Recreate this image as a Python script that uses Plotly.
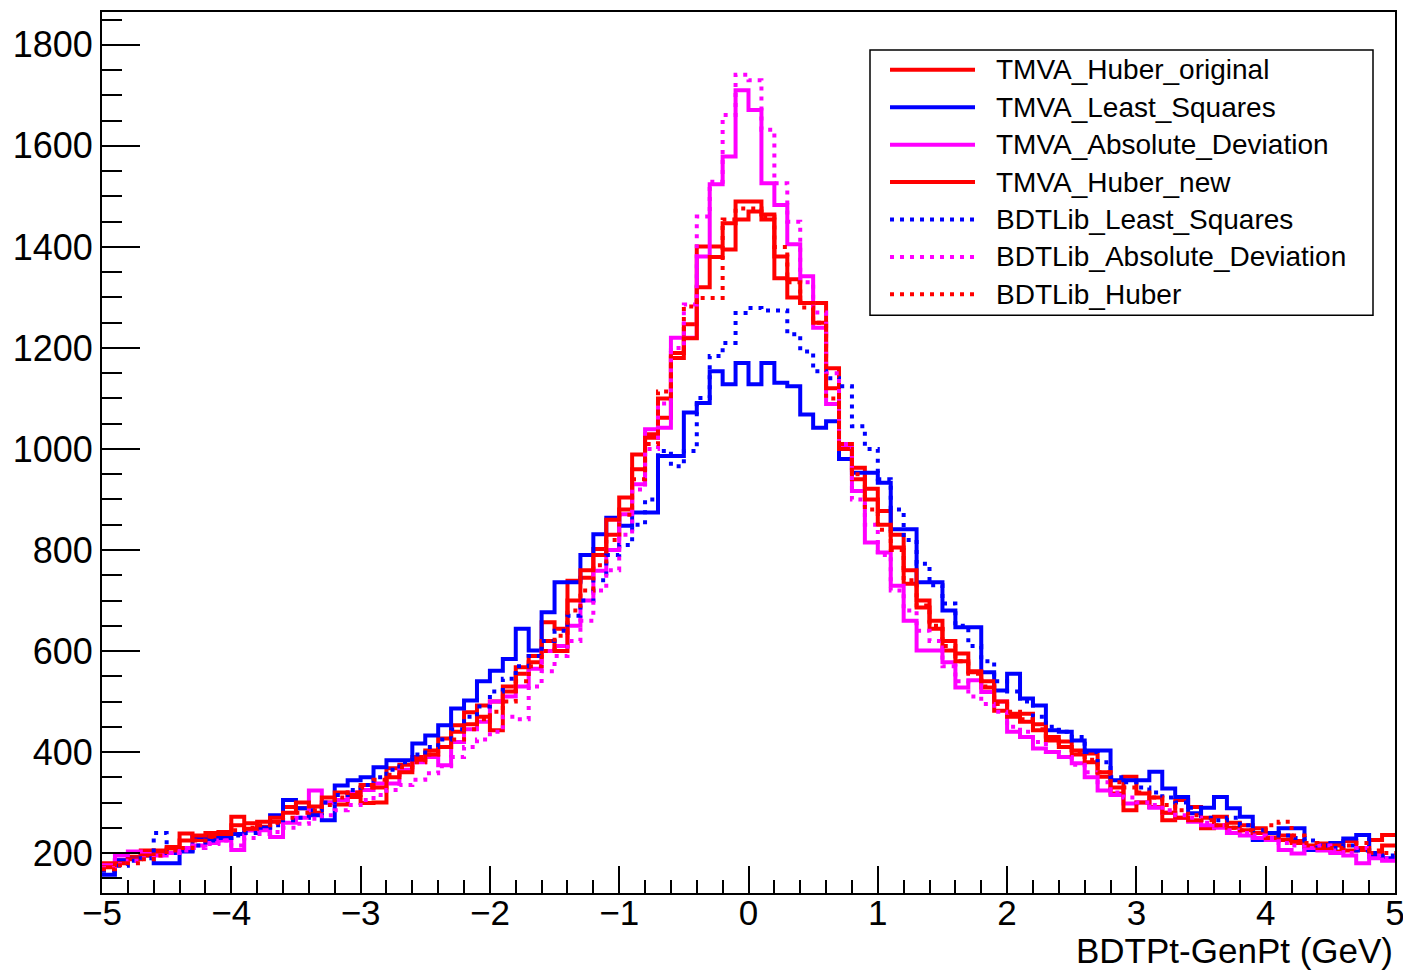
import numpy as np
import plotly.graph_objects as go

# Histogram binning: 100 bins from -5 to 5 GeV
x_min, x_max, n_bins = -5.0, 5.0, 100

series_names = ["TMVA_Huber_original", "TMVA_Least_Squares", "TMVA_Absolute_Deviation",
                "TMVA_Huber_new", "BDTLib_Least_Squares", "BDTLib_Absolute_Deviation",
                "BDTLib_Huber"]

tmva_huber_original = [
    180, 186, 193, 205, 200, 209, 239, 226, 232, 242,
    272, 259, 252, 262, 291, 289, 280, 300, 296, 311,
    299, 300, 368, 375, 390, 403, 427, 453, 479, 492,
    500, 530, 555, 578, 657, 644, 739, 745, 802, 830,
    904, 989, 1029, 1062, 1190, 1247, 1401, 1401, 1447, 1490,
    1490, 1464, 1381, 1336, 1289, 1289, 1160, 1010, 963, 921,
    877, 805, 733, 686, 644, 601, 595, 558, 528, 482,
    476, 476, 443, 423, 421, 403, 397, 351, 318, 351,
    318, 291, 265, 305, 291, 249, 272, 260, 255, 249,
    239, 226, 224, 212, 219, 203, 224, 206, 226, 236]

tmva_least_squares = [
    157, 186, 189, 195, 180, 180, 203, 232, 225, 230,
    238, 245, 250, 275, 305, 289, 275, 265, 334, 344,
    350, 370, 384, 384, 417, 433, 453, 486, 502, 540,
    561, 584, 644, 601, 677, 736, 736, 790, 831, 864,
    848, 874, 874, 986, 986, 1072, 1091, 1154, 1128, 1170,
    1128, 1170, 1131, 1124, 1068, 1042, 1055, 980, 953, 953,
    933, 841, 841, 736, 736, 680, 647, 647, 558, 522,
    555, 506, 492, 443, 440, 423, 403, 403, 344, 344,
    344, 361, 328, 311, 279, 290, 311, 289, 272, 226,
    240, 249, 249, 206, 215, 220, 229, 236, 193, 190]

tmva_absolute_deviation = [
    176, 195, 203, 198, 195, 200, 210, 215, 220, 225,
    206, 245, 245, 232, 260, 270, 324, 300, 305, 320,
    325, 338, 338, 365, 380, 390, 374, 420, 445, 460,
    500, 510, 530, 565, 600, 610, 650, 700, 759, 800,
    871, 930, 1039, 1042, 1220, 1220, 1381, 1524, 1579, 1710,
    1671, 1526, 1483, 1405, 1342, 1240, 1089, 1002, 917, 815,
    795, 729, 660, 601, 601, 578, 528, 542, 519, 500,
    440, 430, 407, 400, 390, 378, 350, 324, 315, 298,
    300, 290, 280, 270, 262, 255, 250, 240, 235, 230,
    226, 206, 199, 210, 205, 200, 195, 180, 190, 185]

tmva_huber_new = [
    172, 180, 188, 195, 205, 212, 225, 235, 240, 238,
    255, 248, 262, 270, 280, 300, 292, 310, 320, 315,
    335, 330, 350, 360, 385, 395, 410, 440, 455, 470,
    443, 520, 568, 590, 620, 600, 700, 760, 790, 860,
    880, 960, 1022, 1100, 1180, 1219, 1320, 1380, 1395, 1454,
    1470, 1454, 1338, 1300, 1289, 1250, 1120, 1000, 940, 900,
    850, 830, 760, 700, 660, 620, 580, 560, 540, 500,
    470, 460, 455, 430, 410, 395, 380, 360, 330, 285,
    300, 310, 280, 270, 265, 270, 255, 250, 245, 240,
    230, 235, 220, 215, 210, 215, 205, 210, 200, 215]

bdtlib_least_squares = [
    165, 175, 185, 190, 240, 200, 205, 215, 225, 230,
    235, 240, 250, 255, 265, 270, 285, 300, 315, 325,
    335, 350, 365, 380, 395, 410, 425, 445, 470, 490,
    520, 545, 570, 590, 620, 640, 670, 700, 740, 790,
    810, 850, 900, 996, 966, 996, 1101, 1184, 1210, 1269,
    1279, 1274, 1274, 1227, 1193, 1154, 1140, 1124, 1045, 1000,
    940, 880, 820, 773, 730, 694, 650, 610, 580, 540,
    520, 500, 470, 450, 440, 430, 400, 380, 350, 340,
    330, 320, 310, 300, 290, 270, 265, 270, 255, 245,
    240, 235, 230, 225, 215, 210, 215, 205, 200, 195]

bdtlib_absolute_deviation = [
    170, 178, 185, 190, 195, 200, 205, 210, 218, 225,
    215, 230, 238, 242, 250, 258, 268, 275, 285, 295,
    305, 315, 325, 335, 345, 358, 372, 390, 410, 425,
    440, 470, 465, 530, 560, 590, 620, 660, 720, 760,
    830, 920, 1000, 1090, 1200, 1286, 1460, 1529, 1661, 1741,
    1730, 1632, 1526, 1450, 1330, 1270, 1150, 1010, 900, 850,
    790, 720, 680, 640, 620, 570, 540, 510, 495, 480,
    450, 440, 420, 400, 390, 375, 360, 340, 320, 310,
    300, 295, 285, 275, 270, 260, 255, 245, 240, 235,
    230, 220, 215, 210, 215, 205, 200, 210, 195, 190]

bdtlib_huber = [
    168, 176, 180, 188, 195, 205, 210, 225, 232, 240,
    245, 250, 255, 260, 270, 280, 285, 295, 310, 320,
    330, 345, 355, 370, 380, 395, 410, 425, 445, 465,
    480, 500, 540, 570, 600, 630, 680, 720, 770, 820,
    870, 940, 1010, 1114, 1190, 1282, 1299, 1299, 1454, 1476,
    1476, 1460, 1400, 1330, 1280, 1250, 1100, 1000, 950, 880,
    840, 800, 740, 690, 650, 610, 580, 555, 530, 495,
    480, 465, 445, 425, 410, 400, 385, 360, 340, 330,
    320, 310, 295, 285, 275, 265, 255, 250, 245, 240,
    255, 262, 235, 220, 215, 210, 215, 220, 205, 200]

series_values = [tmva_huber_original, tmva_least_squares, tmva_absolute_deviation,
                 tmva_huber_new, bdtlib_least_squares, bdtlib_absolute_deviation,
                 bdtlib_huber]
series_colors = ["#ff0000", "#0000ff", "#ff00ff", "#ff0000", "#0000ff", "#ff00ff", "#ff0000"]
series_dash = ["solid", "solid", "solid", "solid", "4px,6px", "4px,6px", "4px,6px"]

x_tick_vals = [-5, -4, -3, -2, -1, 0, 1, 2, 3, 4, 5]
y_tick_vals = [200, 400, 600, 800, 1000, 1200, 1400, 1600, 1800]
x_title = "BDTPt-GenPt (GeV)"

# ---- layout geometry (page pixels; the page body has an 8px margin) ----
BODY = 8
FIG_W, FIG_H = 1411 - BODY, 970 - BODY
PLOT_L, PLOT_R, PLOT_T, PLOT_B = 102, 1395, 10, 893   # frame in page pixels
M_L = PLOT_L - BODY
M_T = PLOT_T - BODY
M_R = FIG_W - (PLOT_R - BODY)
M_B = FIG_H - (PLOT_B - BODY)
PW, PH = PLOT_R - PLOT_L, PLOT_B - PLOT_T


def px_x(px):
    return (px - PLOT_L) / PW


def px_y(py):
    return (PLOT_B - py) / PH


edges = np.linspace(x_min, x_max, n_bins + 1)

fig = go.Figure()
for name, vals, col, dash in zip(series_names, series_values, series_colors, series_dash):
    yv = list(vals) + [vals[-1]]
    fig.add_trace(go.Scatter(
        x=edges, y=yv, mode="lines", name=name, showlegend=False,
        line=dict(color=col, width=4, dash=dash, shape="hv"),
    ))

font_family = "Liberation Sans, Arial, Helvetica, sans-serif"

# ---- ROOT-style legend box ----
shapes = [dict(type="rect", xref="paper", yref="paper",
               x0=px_x(870), x1=px_x(1373), y0=px_y(314), y1=px_y(48),
               line=dict(color="black", width=1.5), fillcolor="white", layer="above")]
annotations = []
for i, (name, col, dash) in enumerate(zip(series_names, series_colors, series_dash)):
    cy = 68 + 37.5 * i
    shapes.append(dict(type="line", xref="paper", yref="paper",
                       x0=px_x(890), x1=px_x(975), y0=px_y(cy), y1=px_y(cy),
                       line=dict(color=col, width=4, dash=dash), layer="above"))
    annotations.append(dict(text=name, xref="paper", yref="paper",
                            x=px_x(994), y=px_y(cy), xanchor="left", yanchor="middle",
                            showarrow=False,
                            font=dict(size=28, family=font_family, color="black")))

annotations.append(dict(
    text=x_title, xref="paper", yref="paper", x=1.0, y=px_y(951),
    xanchor="right", yanchor="middle", showarrow=False,
    font=dict(size=35, family=font_family, color="black"),
))

fig.update_layout(
    width=FIG_W, height=FIG_H,
    margin=dict(l=M_L, r=M_R, t=M_T, b=M_B, pad=0),
    paper_bgcolor="white", plot_bgcolor="white",
    font=dict(family=font_family, color="black", size=35),
    showlegend=False,
    xaxis=dict(
        range=[x_min, x_max], tickvals=x_tick_vals,
        ticks="inside", ticklen=27, tickwidth=1.5, tickcolor="black",
        minor=dict(dtick=0.2, ticks="inside", ticklen=13, tickwidth=1.5, tickcolor="black"),
        showline=True, linecolor="black", linewidth=2, mirror=True,
        showgrid=False, zeroline=False, ticklabelstandoff=-12,
        tickfont=dict(size=35, family=font_family),
    ),
    yaxis=dict(
        range=[121, 1865], tickvals=y_tick_vals,
        ticks="inside", ticklen=38, tickwidth=1.5, tickcolor="black",
        minor=dict(dtick=50, ticks="inside", ticklen=20, tickwidth=1.5, tickcolor="black"),
        showline=True, linecolor="black", linewidth=2, mirror=True,
        showgrid=False, zeroline=False,
        tickfont=dict(size=36, family=font_family),
    ),
    shapes=shapes,
    annotations=annotations,
)

fig.write_html("out.html")
